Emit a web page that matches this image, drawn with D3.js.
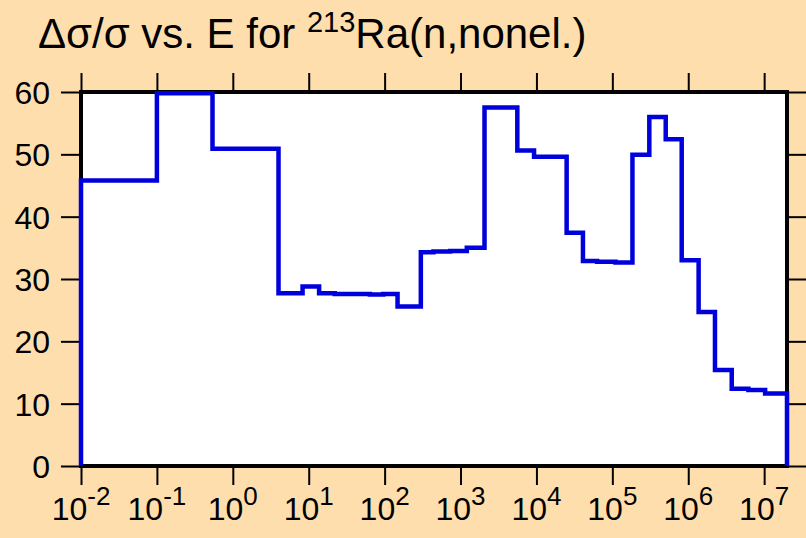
<!DOCTYPE html>
<html><head><meta charset="utf-8">
<script src="https://cdn.jsdelivr.net/npm/d3@7"></script>
<style>
html,body{margin:0;padding:0;background:#FFDEAD;}
svg{display:block;font-family:"Liberation Sans",Arial,sans-serif;}
</style></head>
<body>
<svg id="chart" width="806" height="538"></svg>
<script>
// Bin edges (eV) and relative uncertainty (%) per bin
const binEdges = [0.01, 0.1, 0.54, 4.0, 8.3, 13.7, 22, 39, 64, 96, 148, 300, 440, 730, 1210, 2070,
  5600, 9300, 25000, 41000, 63000, 110000, 184000, 307000, 505000, 820000, 1.37e6, 2.25e6,
  3.74e6, 6.2e6, 1.03e7, 2e7];
const binValues = [45.8, 59.8, 50.9, 27.7, 28.8, 27.7, 27.6, 27.6, 27.5, 27.6, 25.6, 34.3, 34.4,
  34.5, 35.0, 57.5, 50.6, 49.6, 37.4, 32.9, 32.75, 32.65, 49.95, 56.0, 52.4, 33.0, 24.7, 15.4,
  12.4, 12.2, 11.65];
const xTickExps = [-2, -1, 0, 1, 2, 3, 4, 5, 6, 7];
const yTicks = [0, 10, 20, 30, 40, 50, 60];
const titleMain = "\u0394\u03c3/\u03c3 vs. E for ";
const titleSup = "213";
const titleTail = "Ra(n,nonel.)";

const svg = d3.select("#chart");
const L = 81, R = 787, T = 92, B = 466;
const x = d3.scaleLog().domain([0.01, 2e7]).range([L, R]);
const y = d3.scaleLinear().domain([0, 60]).range([B, T]);

svg.append("rect").attr("width", 806).attr("height", 538).attr("fill", "#FFDEAD");
svg.append("rect").attr("x", L).attr("y", T).attr("width", R - L).attr("height", B - T).attr("fill", "#fff");

// axes (ticks outward on all sides)
const fs = 32;
const bottomAxis = d3.axisBottom(x).tickValues(xTickExps.map(e => Math.pow(10, e))).tickSize(19).tickFormat("");
const topAxis = d3.axisTop(x).tickValues(xTickExps.map(e => Math.pow(10, e))).tickSize(19).tickFormat("");
const leftAxis = d3.axisLeft(y).tickValues(yTicks).tickSize(20).tickFormat("");
const rightAxis = d3.axisRight(y).tickValues(yTicks).tickSize(20).tickFormat("");
function styleAxis(g) {
  g.select(".domain").remove();
  g.selectAll(".tick line").attr("stroke", "#000").attr("stroke-width", 2);
}
svg.append("g").attr("transform", `translate(0,${B})`).call(bottomAxis).call(styleAxis);
svg.append("g").attr("transform", `translate(0,${T})`).call(topAxis).call(styleAxis);
svg.append("g").attr("transform", `translate(${L},0)`).call(leftAxis).call(styleAxis);
svg.append("g").attr("transform", `translate(${R},0)`).call(rightAxis).call(styleAxis);

// frame
svg.append("rect").attr("x", L).attr("y", T).attr("width", R - L).attr("height", B - T)
  .attr("fill", "none").attr("stroke", "#000").attr("stroke-width", 4);

// y labels
svg.append("g").selectAll("text").data(yTicks).join("text")
  .attr("x", 50).attr("y", d => y(d) + 12).attr("text-anchor", "end")
  .attr("font-size", fs).attr("fill", "#000").text(d => d);

// x labels with superscripts
const xl = svg.append("g").selectAll("text").data(xTickExps).join("text")
  .attr("x", d => x(Math.pow(10, d))).attr("y", 520).attr("text-anchor", "middle")
  .attr("font-size", fs).attr("fill", "#000");
xl.append("tspan").text("10");
xl.append("tspan").attr("dy", -15).attr("font-size", 26).text(d => String(d));

// step line
const pts = [[binEdges[0], 0]];
binValues.forEach((v, i) => pts.push([binEdges[i], v]));
pts.push([binEdges[binEdges.length - 1], binValues[binValues.length - 1]]);
pts.push([binEdges[binEdges.length - 1], 0]);
const line = d3.line().x(d => x(d[0])).y(d => y(d[1])).curve(d3.curveStepAfter);
svg.append("path").attr("d", line(pts)).attr("fill", "none")
  .attr("stroke", "#0000dd").attr("stroke-width", 4.5).attr("stroke-linejoin", "miter");

// title
const t = svg.append("text").attr("x", 38).attr("y", 48).attr("font-size", 42).attr("fill", "#000");
t.append("tspan").text(titleMain);
t.append("tspan").attr("dy", -16).attr("font-size", 29).text(titleSup);
t.append("tspan").attr("dy", 16).text(titleTail);
</script>
</body></html>
